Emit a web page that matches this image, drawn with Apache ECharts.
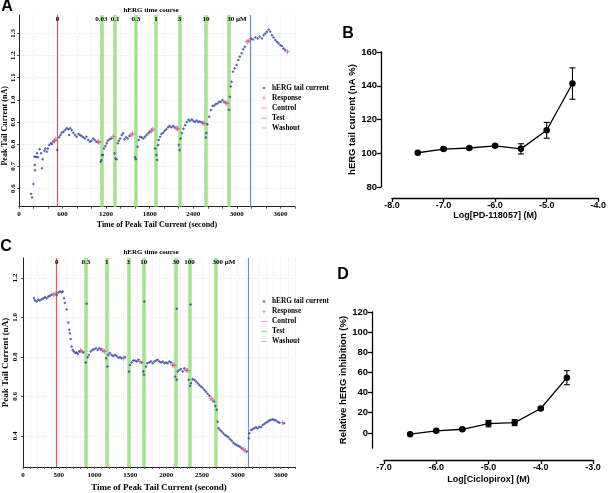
<!DOCTYPE html>
<html><head><meta charset="utf-8">
<script src="https://cdn.jsdelivr.net/npm/echarts@6/dist/echarts.min.js"></script>
<style>html,body{margin:0;padding:0;background:#fff}#c{width:609px;height:493px}</style>
</head><body><div id="c"></div>
<script>
// ---------- Panel A (PD-118057 time course) ----------
const aPoints = [[168,0.575],[181,0.56],[200,0.62],[214,0.743],[218,0.706],[222,0.683],[236,0.743],[249,0.759],[263,0.741],[286,0.777],[304,0.759],[318,0.691],[327,0.732],[350,0.771],[364,0.781],[385,0.766],[399,0.781],[418,0.796],[440,0.804],[454,0.801],[473,0.811],[527,0.774],
[554,0.831],[572,0.841],[590,0.852],[613,0.856],[636,0.864],[658,0.872],[681,0.867],[691,0.841],[704,0.872],[726,0.864],[749,0.852],[772,0.841],[794,0.834],[817,0.846],[840,0.841],[862,0.837],[885,0.831],[908,0.826],[930,0.834],[953,0.819],[977,0.811],[998,0.816],[1022,0.826],[1044,0.819],[1066,0.811],
[1126,0.721],[1135,0.729],[1144,0.751],[1158,0.751],[1171,0.781],[1189,0.792],[1208,0.804],[1226,0.816],[1249,0.822],[1271,0.826],
[1317,0.759],[1331,0.736],[1344,0.732],[1362,0.804],[1376,0.816],[1393,0.826],[1416,0.841],[1434,0.849],[1453,0.822],[1475,0.831],[1498,0.826],[1521,0.837],
[1598,0.741],[1611,0.732],[1634,0.789],[1648,0.819],[1666,0.834],[1689,0.831],[1712,0.826],[1734,0.834],[1757,0.841],[1780,0.849],[1802,0.856],
[1875,0.781],[1893,0.751],[1903,0.729],[1916,0.796],[1925,0.819],[1944,0.834],[1961,0.846],[1984,0.852],[2006,0.861],[2029,0.867],[2053,0.876],[2074,0.882],[2097,0.876],[2121,0.882],[2142,0.876],
[2202,0.796],[2211,0.774],[2224,0.826],[2243,0.85],[2265,0.87],[2288,0.885],[2311,0.9],[2333,0.91],[2356,0.905],[2379,0.912],[2401,0.905],[2424,0.9],[2448,0.907],[2469,0.9],[2492,0.902],[2516,0.898],
[2574,0.83],[2581,0.85],[2595,0.89],[2619,0.924],[2642,0.954],[2665,0.972],[2687,0.975],[2710,0.981],[2734,0.984],[2755,0.992],[2778,0.99],[2802,1.0],[2824,0.99],
[2892,0.955],[2905,1.014],[2915,1.06],[2928,1.082],[2946,1.127],[2969,1.142],[2996,1.157],[3020,1.18],[3041,1.195],[3065,1.21],[3088,1.228],[3110,1.24],
[3197,1.277],[3224,1.273],[3255,1.282],[3287,1.277],[3314,1.285],[3346,1.277],[3368,1.292],[3391,1.3],[3414,1.307],[3437,1.318],[3459,1.307],[3483,1.292],[3504,1.282],[3528,1.27],[3551,1.262],[3573,1.255],[3596,1.247],[3619,1.243],[3641,1.232],[3664,1.225]];
const aResponse = [[490,0.816],[508,0.822],[1090,0.811],[1103,0.809],[1294,0.834],[1543,0.841],[1566,0.846],[1825,0.861],[1843,0.867],[2166,0.872],[2183,0.87],[2529,0.897],[2547,0.893],[2847,0.987],[2864,0.985],[3142,1.262],[3164,1.267],[3695,1.217]];
const aControl = [531];
const aTest = [1135,1325,1611,1887,2211,2574,2892];
const aWashout = [3178];
const aConcLabels = ['0','0.03','0.1','0.3','1','3','10','30 μM'];
const aYTicks = [0.6,0.7,0.8,0.9,1.0,1.1,1.2,1.3];

// ---------- Panel C (Ciclopirox time course) ----------
const cPoints = [[154,1.097],[168,1.085],[191,1.08],[214,1.089],[237,1.085],[261,1.092],[284,1.097],[307,1.102],[331,1.097],[353,1.105],[377,1.109],[401,1.114],
[471,1.114],[493,1.126],[517,1.131],[541,1.126],[555,1.131],[573,1.097],[587,1.072],[610,1.041],[633,0.974],[647,0.937],[657,0.92],[666,0.89],[680,0.852],[694,0.835],[712,0.827],[731,0.819],[750,0.822],[768,0.815],[787,0.827],[842,0.822],
[876,0.771],[890,1.068],[904,0.798],[922,0.81],[946,0.827],[968,0.835],[992,0.839],[1020,0.844],[1044,0.835],[1066,0.844],[1090,0.839],
[1160,0.793],[1178,0.751],[1192,0.81],[1215,0.819],[1239,0.81],[1261,0.805],[1285,0.81],[1309,0.805],[1331,0.795],[1355,0.798],[1379,0.793],[1425,0.798],
[1481,0.726],[1495,0.759],[1519,0.771],[1541,0.781],[1565,0.781],[1588,0.776],[1611,0.785],[1658,0.771],
[1681,0.726],[1690,0.709],[1695,1.08],[1718,0.751],[1736,0.768],[1764,0.771],[1788,0.776],[1812,0.768],[1834,0.776],[1858,0.781],[1882,0.785],[1904,0.776],[1928,0.771],[1952,0.776],[1974,0.768],[1998,0.771],[2021,0.768],[2044,0.776],[2068,0.771],
[2128,0.70],[2147,0.684],[2150,1.043],[2161,0.726],[2184,0.734],[2207,0.738],[2231,0.726],[2253,0.743],
[2315,0.684],[2333,0.653],[2340,1.065],[2347,0.667],[2371,0.687],[2393,0.684],[2417,0.675],[2441,0.667],[2463,0.658],[2487,0.65],[2510,0.642],[2533,0.633],[2557,0.624],[2580,0.613],[2603,0.603],[2668,0.574],[2686,0.552],
[2706,0.532],[2720,0.472],[2734,0.439],[2752,0.43],[2776,0.422],[2798,0.414],[2822,0.405],[2846,0.40],[2868,0.393],[2892,0.383],[2916,0.376],[2938,0.366],[2962,0.359],[2985,0.354],[3008,0.349],[3031,0.346],[3055,0.338],[3125,0.32],
[3153,0.388],[3161,0.414],[3185,0.43],[3209,0.434],[3231,0.439],[3255,0.444],[3279,0.439],[3301,0.447],[3325,0.444],[3349,0.456],[3371,0.461],[3395,0.467],[3418,0.472],[3441,0.478],[3465,0.481],[3488,0.485],[3511,0.481],[3534,0.478],[3558,0.472],[3581,0.467],[3646,0.464]];
const cResponse = [[423,1.114],[447,1.119],[806,0.832],[824,0.827],[1113,0.832],[1136,0.827],[1401,0.793],[1634,0.776],[2091,0.759],[2109,0.757],[2277,0.734],[2295,0.731],[2626,0.591],[2650,0.582],[3078,0.333],[3101,0.326],[3628,0.467]];
const cControl = [471];
const cTest = [880,1169,1471,1686,2137,2325,2696];
const cWashout = [3147];
const cConcLabels = ['0','0.3','1','3','10','30','100','300 μM'];
const cYTicks = [0.4,0.6,0.8,1.0,1.2];

// ---------- Panel B (PD-118057 concentration response) ----------
const bLogConc = [-7.5,-7.0,-6.5,-6.0,-5.5,-5.0,-4.5];
const bMean = [100.3,102.5,103.1,104.4,102.6,113.6,141.3];
const bErr = [0.6,0.8,0.8,0.9,3.0,4.7,9.3];

// ---------- Panel D (Ciclopirox concentration response) ----------
const dLogConc = [-6.5,-6.0,-5.5,-5.0,-4.5,-4.0,-3.5];
const dMean = [-1.3,2.0,3.6,9.2,10.2,24.2,54.8];
const dErr = [1.0,1.2,1.0,3.2,3.0,1.2,7.0];
const dYTicks = [0,20,40,60,80,100,120];

// ---------- styling ----------
const SERIF = '"Liberation Serif","Times New Roman",serif';
const SANS = '"Liberation Sans",Arial,sans-serif';
const PT_BLUE = '#2a3c9c', RESP = '#cc4f86', CTRL = '#e8555c', TEST = '#a3e58c', WASH = '#6f8fcf';
const PLUS = 'path://M4,0H6V4H10V6H6V10H4V6H0V4H4Z';
const BOX = 'M0,0h0.01v0.01Z M10,10h0.01v0.01Z ';
const DIAMOND_ICON = 'path://' + BOX + 'M5,2.4L7.6,5L5,7.6L2.4,5Z';
const PLUS_ICON = 'path://' + BOX + 'M4.4,1.5H5.6V4.4H8.5V5.6H5.6V8.5H4.4V5.6H1.5V4.4H4.4Z';
const LINE_ICON = 'path://' + BOX + 'M0,4.4H10V5.6H0Z';
const THICK_ICON = 'path://' + BOX + 'M0,3.8H10V6.2H0Z';

const serifBold = (s)=>({fontFamily:SERIF, fontWeight:'bold', fontSize:s, color:'#000'});
const sansBold = (s)=>({fontFamily:SANS, fontWeight:'bold', fontSize:s, color:'#000'});

function timeSeries(idx, points, resp, ctrl, tests, wash, labels){
  const mk = (vals, lbls, color, width, padLast) => ({
    silent:true, symbol:'none', animation:false,
    label: Object.assign({show:true, position:'end', distance:-7.5}, serifBold(7)),
    lineStyle:{color:color, width:width, type:'solid', opacity:1},
    emphasis:{disabled:true},
    data: vals.map((v,i)=>{
      const it = {xAxis:v, lineStyle:{color:color, width:width, type:'solid', opacity:1},
        label:Object.assign({show:!!lbls, position:'end', distance:-7.5, formatter: lbls ? lbls[i] : ''}, serifBold(7))};
      if (padLast && i === vals.length-1) it.label.padding = [0,0,0,padLast];
      return it;
    })
  });
  return [
    {name:'Control', type:'line', xAxisIndex:idx, yAxisIndex:idx, data:[], symbol:'none',
     itemStyle:{color:CTRL}, lineStyle:{color:CTRL, width:1}, markLine: mk(ctrl, [labels[0]], CTRL, 1.2)},
    {name:'Test', type:'line', xAxisIndex:idx, yAxisIndex:idx, data:[], symbol:'none',
     itemStyle:{color:TEST}, lineStyle:{color:TEST, width:2}, markLine: mk(tests, labels.slice(1), TEST, 3.5, 16)},
    {name:'Washout', type:'line', xAxisIndex:idx, yAxisIndex:idx, data:[], symbol:'none',
     itemStyle:{color:WASH}, lineStyle:{color:WASH, width:1}, markLine: mk(wash, null, WASH, 1.2)},
    {name:'hERG tail current', type:'scatter', xAxisIndex:idx, yAxisIndex:idx, data:points,
     symbol:'diamond', symbolSize:3, itemStyle:{color:PT_BLUE}, z:5, silent:true},
    {name:'Response', type:'scatter', xAxisIndex:idx, yAxisIndex:idx, data:resp,
     symbol:PLUS, symbolSize:5, itemStyle:{color:RESP}, z:6, silent:true}
  ];
}

function errSeries(idx, xs, means, errs){
  return {type:'custom', xAxisIndex:idx, yAxisIndex:idx, silent:true, z:1,
    data: xs.map((x,i)=>[x, means[i]-errs[i], means[i]+errs[i]]),
    renderItem:(params, api)=>{
      const lo = api.coord([api.value(0), api.value(1)]);
      const hi = api.coord([api.value(0), api.value(2)]);
      const w = 3, st = {stroke:'#000', lineWidth:1.1};
      return {type:'group', children:[
        {type:'line', shape:{x1:lo[0],y1:lo[1],x2:hi[0],y2:hi[1]}, style:st},
        {type:'line', shape:{x1:lo[0]-w,y1:lo[1],x2:lo[0]+w,y2:lo[1]}, style:st},
        {type:'line', shape:{x1:hi[0]-w,y1:hi[1],x2:hi[0]+w,y2:hi[1]}, style:st}
      ]};
    }};
}
function doseSeries(idx, xs, means){
  return {type:'line', xAxisIndex:idx, yAxisIndex:idx, data: xs.map((x,i)=>[x, means[i]]),
    symbol:'circle', symbolSize:6.5, itemStyle:{color:'#000'}, lineStyle:{color:'#000', width:1.3}, z:3, silent:true};
}

const legendCommon = {orient:'vertical', itemWidth:6, itemHeight:7, itemGap:3, padding:0, selectedMode:false,
  textStyle: serifBold(7.3),
  data: [{name:'hERG tail current', icon:DIAMOND_ICON},{name:'Response', icon:PLUS_ICON},
         {name:'Control', icon:LINE_ICON},{name:'Test', icon:THICK_ICON},{name:'Washout', icon:LINE_ICON}]};

const timeXAxis = (grid, interval, fmt, nameGap, nameSize, margin) => ({
  type:'value', gridIndex:grid, min:0, max:3800, interval:interval,
  axisLine:{onZero:false, lineStyle:{color:'#222', width:1}},
  axisTick:{length:2, lineStyle:{color:'#555'}},
  axisLabel:Object.assign({formatter:fmt, margin:margin}, serifBold(7)),
  splitLine:{show:true, lineStyle:{color:'#ededed', type:'dotted'}},
  name:'Time of Peak Tail Current (second)', nameLocation:'middle', nameGap:nameGap,
  nameTextStyle: serifBold(nameSize)
});
const timeYAxis = (grid, min, max, ticks, nameGap, nameSize, margin, pad) => ({
  type:'value', gridIndex:grid, min:min, max:max,
  axisLine:{show:true, onZero:false, lineStyle:{color:'#222', width:1}},
  axisTick:{show:true, length:2, customValues:ticks, lineStyle:{color:'#555'}},
  axisLabel:Object.assign({customValues:ticks, rotate:90, margin:margin, formatter:(v)=>v.toFixed(1)}, serifBold(7)),
  splitLine:{show:true, lineStyle:{color:'#ededed', type:'dotted'}},
  name:'Peak Tail Current (nA)', nameLocation:'middle', nameGap:nameGap,
  nameTextStyle: Object.assign({padding:pad}, serifBold(nameSize))
});

const option = {
  animation:false,
  backgroundColor:'#fff',
  grid:[
    {left:16, top:15, width:279, height:191.7},
    {left:23, top:258, width:272, height:209},
    {left:392, top:52, width:209, height:135},
    {left:384, top:312, width:209, height:136}
  ],
  legend:[
    Object.assign({left:261, top:84.5}, legendCommon),
    Object.assign({left:261, top:298}, legendCommon)
  ],
  xAxis:[
    timeXAxis(0, 200, (v)=> (v%600===0 && v<=3600) ? String(v) : '', 14, 8, 4),
    timeXAxis(1, 100, (v)=> ((v%500===0 && v<=3000) || v===3600) ? String(v) : '', 16, 9, 4.5),
    {type:'value', gridIndex:2, min:-8, max:-4, interval:1, offset:11,
     axisLine:{onZero:false, lineStyle:{color:'#000', width:1.3}},
     axisTick:{length:4, lineStyle:{color:'#000', width:1.3}},
     axisLabel:Object.assign({margin:3.5, formatter:(v)=>v.toFixed(1)}, sansBold(9)),
     splitLine:{show:false},
     name:'Log[PD-118057] (M)', nameLocation:'middle', nameGap:13, nameTextStyle:sansBold(9)},
    {type:'value', gridIndex:3, min:-7, max:-3, interval:1, offset:12,
     axisLine:{onZero:false, lineStyle:{color:'#000', width:1.3}},
     axisTick:{length:4, lineStyle:{color:'#000', width:1.3}},
     axisLabel:Object.assign({margin:3.5, formatter:(v)=>v.toFixed(1)}, sansBold(9)),
     splitLine:{show:false},
     name:'Log[Ciclopirox] (M)', nameLocation:'middle', nameGap:15, nameTextStyle:sansBold(9)}
  ],
  yAxis:[
    timeYAxis(0, 0.518, 1.383, aYTicks, 7, 8, 2, [0,30,0,0]),
    timeYAxis(1, 0.243, 1.30, cYTicks, 13, 9, 4, 0),
    {type:'value', gridIndex:2, min:80, max:160, interval:20, offset:11,
     axisLine:{show:true, onZero:false, lineStyle:{color:'#000', width:1.3}},
     axisTick:{show:true, length:4, lineStyle:{color:'#000', width:1.3}},
     axisLabel:Object.assign({margin:4}, sansBold(9.5)),
     splitLine:{show:false},
     name:'hERG tail current (nA %)', nameLocation:'middle', nameGap:21, nameTextStyle:sansBold(9.5)},
    {type:'value', gridIndex:3, min:-15, max:120, offset:12,
     axisLine:{show:true, onZero:false, lineStyle:{color:'#000', width:1.3}},
     axisTick:{show:true, length:4, customValues:dYTicks, lineStyle:{color:'#000', width:1.3}},
     axisLabel:Object.assign({margin:4, customValues:dYTicks}, sansBold(9.5)),
     splitLine:{show:false},
     name:'Relative hERG inhibition (%)', nameLocation:'middle', nameGap:20, nameTextStyle:sansBold(9.5)}
  ],
  graphic:[
    {type:'text', x:7, y:7, style:{text:'A', font:'bold 16px '+SANS, textAlign:'center', textVerticalAlign:'middle', align:'center', verticalAlign:'middle', fill:'#000'}},
    {type:'text', x:6, y:247, style:{text:'C', font:'bold 16px '+SANS, textAlign:'center', textVerticalAlign:'middle', align:'center', verticalAlign:'middle', fill:'#000'}},
    {type:'text', x:348, y:34, style:{text:'B', font:'bold 16px '+SANS, textAlign:'center', textVerticalAlign:'middle', align:'center', verticalAlign:'middle', fill:'#000'}},
    {type:'text', x:343, y:275, style:{text:'D', font:'bold 16px '+SANS, textAlign:'center', textVerticalAlign:'middle', align:'center', verticalAlign:'middle', fill:'#000'}},
    {type:'text', x:151, y:10, style:{text:'hERG time course', font:'bold 7px '+SERIF, textAlign:'center', textVerticalAlign:'middle', align:'center', verticalAlign:'middle', fill:'#000'}},
    {type:'text', x:151, y:252, style:{text:'hERG time course', font:'bold 7px '+SERIF, textAlign:'center', textVerticalAlign:'middle', align:'center', verticalAlign:'middle', fill:'#000'}}
  ],
  series:[].concat(
    timeSeries(0, aPoints, aResponse, aControl, aTest, aWashout, aConcLabels),
    timeSeries(1, cPoints, cResponse, cControl, cTest, cWashout, cConcLabels),
    [errSeries(2, bLogConc, bMean, bErr), doseSeries(2, bLogConc, bMean),
     errSeries(3, dLogConc, dMean, dErr), doseSeries(3, dLogConc, dMean)]
  )
};
const chart = echarts.init(document.getElementById('c'));
chart.setOption(option);
</script></body></html>
